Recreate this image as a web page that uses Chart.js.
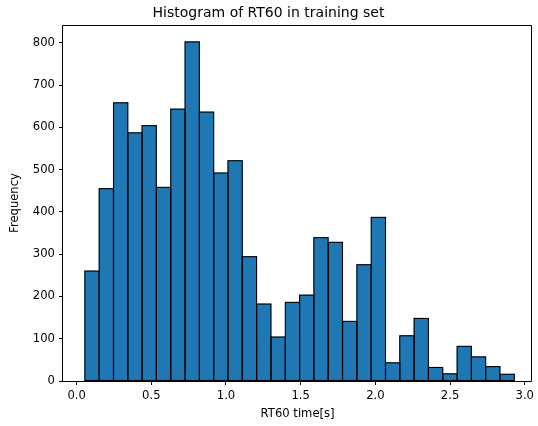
<!DOCTYPE html>
<html>
<head>
<meta charset="utf-8">
<script src="https://cdn.jsdelivr.net/npm/chart.js@4/dist/chart.umd.min.js"></script>
<style>
  html, body { margin: 0; padding: 0; background: #fff; }
  canvas { display: block; }
</style>
</head>
<body>
<canvas id="c" width="538" height="426"></canvas>
<script>
// Histogram bin edges (RT60 time in seconds)
const binEdges = [0.055, 0.151, 0.247, 0.343, 0.438, 0.534, 0.630, 0.726, 0.822, 0.918,
  1.013, 1.109, 1.205, 1.301, 1.397, 1.493, 1.588, 1.684, 1.780, 1.876,
  1.972, 2.068, 2.163, 2.259, 2.355, 2.451, 2.547, 2.643, 2.738, 2.834, 2.930];
// Frequency per bin
const counts = [260, 455, 658, 587, 604, 458, 643, 802, 636, 492,
  521, 294, 182, 104, 186, 203, 339, 328, 141, 275,
  387, 43, 107, 148, 32, 17, 82, 57, 34, 16];
const xTicks = [0.0, 0.5, 1.0, 1.5, 2.0, 2.5, 3.0];
const yTicks = [0, 100, 200, 300, 400, 500, 600, 700, 800];

const titleText = 'Histogram of RT60 in training set';
const xTitle = 'RT60 time[s]';
const yTitle = 'Frequency';

const points = counts.map((c, i) => ({ x: (binEdges[i] + binEdges[i + 1]) / 2, y: c }));

const FONT = 'DejaVu Sans';
const TICK_SIZE = 11.6;

// Outline each bar along its edges (like matplotlib edgecolor), using the library's bar geometry
const barEdges = {
  id: 'barEdges',
  afterDatasetsDraw(chart) {
    const { ctx } = chart;
    const meta = chart.getDatasetMeta(0);
    ctx.save();
    ctx.strokeStyle = '#000';
    ctx.lineWidth = 1.1;
    meta.data.forEach(el => {
      const p = el.getProps(['x', 'y', 'base', 'width'], true);
      ctx.strokeRect(p.x - p.width / 2, p.y, p.width, p.base - p.y);
    });
    ctx.restore();
  }
};

const spines = {
  id: 'spines',
  afterDraw(chart) {
    const { ctx, chartArea: a } = chart;
    ctx.save();
    ctx.strokeStyle = '#000';
    ctx.lineWidth = 1;
    const l = Math.round(a.left) - 0.5, r = Math.round(a.right) - 0.5;
    const t = Math.round(a.top) + 0.5, b = Math.round(a.bottom) + 0.5;
    ctx.beginPath();
    ctx.moveTo(l, t); ctx.lineTo(r, t); ctx.lineTo(r, b); ctx.lineTo(l, b); ctx.closePath();
    ctx.stroke();
    ctx.restore();
  }
};

new Chart(document.getElementById('c'), {
  type: 'bar',
  data: {
    datasets: [{
      data: points,
      backgroundColor: '#1f77b4',
      borderWidth: 0,
      barPercentage: 1.0,
      categoryPercentage: 1.0
    }]
  },
  options: {
    responsive: false,
    animation: false,
    events: [],
    layout: { padding: { left: 0, right: 1, top: 0, bottom: 0 } },
    plugins: {
      legend: { display: false },
      tooltip: { enabled: false },
      title: {
        display: true,
        text: titleText,
        color: '#000',
        font: { family: FONT, size: 14, weight: 'normal' },
        padding: { top: 4.5, bottom: 3.7 }
      }
    },
    scales: {
      x: {
        type: 'linear',
        offset: false,
        min: -0.091,
        max: 3.05,
        afterFit(scale) { scale.height = 45; },
        afterBuildTicks(scale) { scale.ticks = xTicks.map(v => ({ value: v })); },
        grid: { offset: false, drawOnChartArea: false, drawTicks: true, tickLength: 4, color: '#000', lineWidth: 1 },
        border: { display: false },
        ticks: {
          color: '#000',
          font: { family: FONT, size: TICK_SIZE },
          padding: 4,
          maxRotation: 0,
          autoSkip: false,
          callback: v => Number(v).toFixed(1)
        },
        title: {
          display: true,
          text: xTitle,
          color: '#000',
          font: { family: FONT, size: TICK_SIZE },
          padding: { top: 0, bottom: 5 }
        }
      },
      y: {
        type: 'linear',
        min: 0,
        max: 842,
        afterFit(scale) { scale.width = 63; },
        afterBuildTicks(scale) { scale.ticks = yTicks.map(v => ({ value: v })); },
        grid: { drawOnChartArea: false, drawTicks: true, tickLength: 4, color: '#000', lineWidth: 1 },
        border: { display: false },
        ticks: {
          color: '#000',
          font: { family: FONT, size: TICK_SIZE },
          padding: 4,
          autoSkip: false,
          callback: v => String(v)
        },
        title: {
          display: true,
          text: yTitle,
          color: '#000',
          font: { family: FONT, size: TICK_SIZE },
          padding: { top: 8.5, bottom: 0 }
        }
      }
    }
  },
  plugins: [barEdges, spines]
});
</script>
</body>
</html>
